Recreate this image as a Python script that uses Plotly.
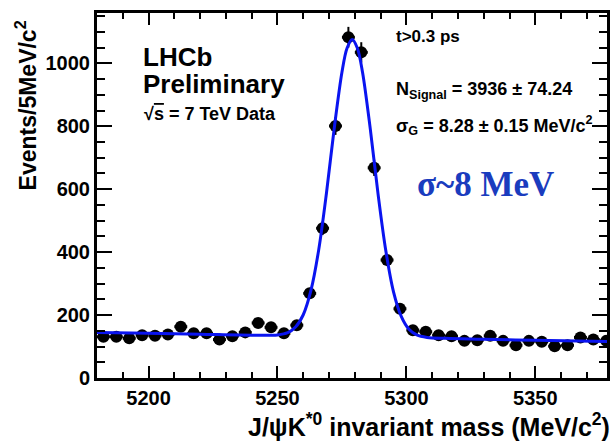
import numpy as np
import plotly.graph_objects as go

# ---- data ----
mass_centers = [5182.5, 5187.5, 5192.5, 5197.5, 5202.5, 5207.5, 5212.5, 5217.5,
                5222.5, 5227.5, 5232.5, 5237.5, 5242.5, 5247.5, 5252.5, 5257.5,
                5262.5, 5267.5, 5272.5, 5277.5, 5282.5, 5287.5, 5292.5, 5297.5,
                5302.5, 5307.5, 5312.5, 5317.5, 5322.5, 5327.5, 5332.5, 5337.5,
                5342.5, 5347.5, 5352.5, 5357.5, 5362.5, 5367.5, 5372.5, 5377.5]
events = [131, 131, 126, 136, 134, 138, 163, 142,
          142, 122, 133, 145, 175, 161, 142, 168,
          269, 476, 801, 1083, 1035, 668, 375, 220,
          152, 147, 136, 133, 118, 120, 134, 118,
          104, 118, 115, 101, 104, 129, 122, 118]
bin_half_width = [2.5] * len(mass_centers)

fit_mass = [5180, 5200, 5220, 5240, 5250, 5254, 5257, 5260, 5263, 5266, 5269,
            5272, 5275, 5277, 5279, 5281, 5283, 5286, 5289, 5292, 5295, 5298,
            5301, 5304, 5308, 5315, 5330, 5350, 5378]
fit_values = [145, 142, 139, 136, 137, 144, 162, 201, 279, 408, 588,
              793, 972, 1049, 1076, 1048, 971, 791, 585, 405, 274, 196,
              155, 137, 129, 126, 123, 120, 116]

x_range = [5180, 5377.8]
y_range = [0, 1160]

W, H = 610, 441
ML, MR, MT, MB = 97, 0, 13, 63
PW, PH = W - ML - MR, H - MT - MB


def px(xp):
    return (xp - ML) / PW


def py(yp):
    return (H - MB - yp) / PH


fig = go.Figure()

fig.add_trace(go.Scatter(
    x=mass_centers, y=events, mode="markers",
    marker=dict(color="black", size=12, symbol="circle"),
    error_y=dict(type="data", array=np.sqrt(events), color="black", thickness=2, width=0),
    error_x=dict(type="data", array=bin_half_width, color="black", thickness=3, width=0),
    showlegend=False, hoverinfo="skip",
))

fig.add_trace(go.Scatter(
    x=fit_mass, y=fit_values, mode="lines",
    line=dict(color="#0a14f0", width=3, shape="spline", smoothing=0.9),
    showlegend=False, hoverinfo="skip",
))

bold_font = dict(family="Liberation Sans, Arial", color="black", weight="bold")

fig.update_xaxes(
    range=x_range, showline=True, linewidth=3, linecolor="black", mirror="ticks",
    ticks="inside", ticklen=12, tickwidth=2, tickcolor="black",
    tick0=5200, dtick=50,
    minor=dict(dtick=10, ticklen=6, tickwidth=2, tickcolor="black", ticks="inside"),
    tickfont=dict(size=20, **bold_font),
    showgrid=False, zeroline=False,
)
fig.update_yaxes(
    range=y_range, showline=True, linewidth=3, linecolor="black", mirror="ticks",
    ticks="inside", ticklen=15, tickwidth=2, tickcolor="black",
    tick0=0, dtick=200,
    minor=dict(dtick=50, ticklen=8, tickwidth=2, tickcolor="black", ticks="inside"),
    tickfont=dict(size=20, **bold_font),
    showgrid=False, zeroline=False,
)

annotations = [
    dict(text="LHCb", x=px(141), y=py(57), xanchor="left", yanchor="middle",
         font=dict(size=26, **bold_font)),
    dict(text="Preliminary", x=px(141), y=py(84), xanchor="left", yanchor="middle",
         font=dict(size=26, **bold_font)),
    dict(text="√<span style='text-decoration:overline'>s</span> = 7 TeV Data",
         x=px(142), y=py(114), xanchor="left", yanchor="middle",
         font=dict(size=18, **bold_font)),
    dict(text="t>0.3 ps", x=px(396), y=py(37), xanchor="left", yanchor="middle",
         font=dict(size=17, **bold_font)),
    dict(text="N<sub>Signal</sub> = 3936 ± 74.24", x=px(396), y=py(90),
         xanchor="left", yanchor="middle", font=dict(size=18, **bold_font)),
    dict(text="σ<sub>G</sub> = 8.28 ± 0.15 MeV/c<sup>2</sup>", x=px(396), y=py(126),
         xanchor="left", yanchor="middle", font=dict(size=18, **bold_font)),
    dict(text="σ~8 MeV", x=px(417), y=py(184), xanchor="left", yanchor="middle",
         font=dict(size=35, family="Liberation Serif, Times New Roman", color="#1a3cbe",
                   weight="bold")),
    dict(text="J/ψK<sup>*0</sup> invariant mass (MeV/c<sup>2</sup>)",
         x=px(247), y=py(425), xanchor="left", yanchor="middle",
         font=dict(size=25, **bold_font)),
    dict(text="Events/5MeV/c<sup>2</sup>", x=px(26), y=py(105), xanchor="center",
         yanchor="middle", textangle=-90, font=dict(size=23, **bold_font)),
]
for a in annotations:
    a.update(xref="paper", yref="paper", showarrow=False)

fig.update_layout(
    width=W, height=H, margin=dict(l=ML, r=MR, t=MT, b=MB),
    paper_bgcolor="white", plot_bgcolor="white",
    annotations=annotations, showlegend=False,
)

fig.write_html("out.html")
